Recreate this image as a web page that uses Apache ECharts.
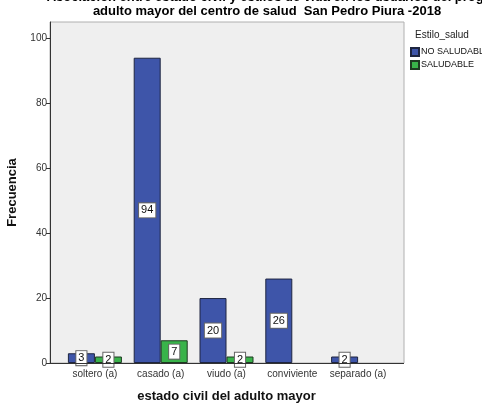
<!DOCTYPE html>
<html>
<head>
<meta charset="utf-8">
<script src="https://cdn.jsdelivr.net/npm/echarts@6/dist/echarts.min.js"></script>
<style>
html,body{margin:0;padding:0;background:#fff;}
#main{width:482px;height:405px;}
</style>
</head>
<body>
<div id="main"></div>
<script>
/*datos del grafico*/
const categorias = ["soltero (a)", "casado (a)", "viudo (a)", "conviviente", "separado (a)"];
const noSaludable = [3, 94, 20, 26, 2];
const saludable = [2, 7, 2, null, null];
const ticksY = [0, 20, 40, 60, 80, 100];

const chart = echarts.init(document.getElementById("main"));

const etiqueta = {
	show: true,
	position: "inside",
	color: "#111",
	fontFamily: "Arial",
	fontSize: 11,
	backgroundColor: "#fff",
	borderColor: "#666",
	borderWidth: 1,
	padding: [2, 2, 1, 2]
};

chart.setOption({
	animation: false,
	textStyle: {fontFamily: "Arial"},
	graphic: [
		// fondo del area de trazado
		{type: "rect", z: -10, shape: {x: 50, y: 22, width: 354, height: 341},
			style: {fill: "#efefef", stroke: "#b0b0b0", lineWidth: 1}},
		{type: "line", z: 10, shape: {x1: 50, y1: 363.5, x2: 404, y2: 363.5},
			style: {stroke: "#333", lineWidth: 1}},
		{type: "text", x: 267, y: -3, style: {
			text: "Asociación entre estado civil y estilos de vida en los usuarios del prog.",
			font: "bold 13px Arial", fill: "#000", textAlign: "center", textVerticalAlign: "middle"}},
		{type: "text", x: 267, y: 11, style: {
			text: "adulto mayor del centro de salud  San Pedro Piura -2018",
			font: "bold 13px Arial", fill: "#000", textAlign: "center", textVerticalAlign: "middle"}},
		{type: "text", x: 415, y: 35, style: {
			text: "Estilo_salud", font: "10px Arial", fill: "#222", textVerticalAlign: "middle"}}
	],
	legend: {
		orient: "vertical",
		left: 405,
		top: 42,
		itemWidth: 8,
		itemHeight: 8,
		itemGap: 3,
		icon: "rect",
		textStyle: {fontSize: 9, color: "#111", padding: [0, 0, 0, -3]},
		data: ["NO SALUDABL", "SALUDABLE"]
	},
	grid: {left: 62, right: 91, top: 22, bottom: 42, containLabel: false, outerBoundsMode: "none"},
	xAxis: {
		type: "category",
		data: categorias,
		name: "estado civil del adulto mayor",
		nameLocation: "middle",
		nameGap: 27,
		nameTextStyle: {fontSize: 13, fontWeight: "bold", color: "#111"},
		axisLine: {show: false},
		axisTick: {alignWithLabel: true, length: 5, lineStyle: {color: "#333"}},
		axisLabel: {interval: 0, fontSize: 10, color: "#333", margin: 6}
	},
	yAxis: {
		type: "value",
		min: 0,
		max: 105,
		offset: 12,
		name: "Frecuencia",
		nameLocation: "middle",
		nameGap: 30,
		nameTextStyle: {fontSize: 13, fontWeight: "bold", color: "#111"},
		splitLine: {show: false},
		axisLine: {show: true, lineStyle: {color: "#333"}},
		axisTick: {show: true, length: 4, customValues: ticksY, lineStyle: {color: "#333"}},
		axisLabel: {fontSize: 10, color: "#333", margin: 3, customValues: ticksY}
	},
	series: [
		{
			name: "NO SALUDABL",
			type: "bar",
			data: noSaludable,
			barWidth: 27,
			barGap: "0%",
			itemStyle: {color: "#3e55a9", borderColor: "#1e2540", borderWidth: 1},
			label: etiqueta
		},
		{
			name: "SALUDABLE",
			type: "bar",
			data: saludable,
			barWidth: 27,
			itemStyle: {color: "#39b34a", borderColor: "#1e3a22", borderWidth: 1},
			label: etiqueta
		}
	]
});
</script>
</body>
</html>
